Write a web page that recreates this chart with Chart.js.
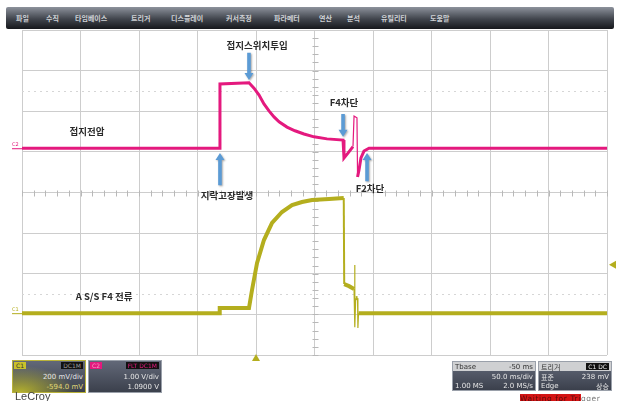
<!DOCTYPE html>
<html>
<head>
<meta charset="utf-8">
<script src="https://cdn.jsdelivr.net/npm/chart.js@4.4.1/dist/chart.umd.min.js"></script>
<style>
  body { margin: 0; background: #fff; overflow: hidden; }
  #wrap { position: relative; width: 619px; height: 401px; font-family: "DejaVu Sans", sans-serif; }
  #scope { position: absolute; left: 0; top: 0; }
  .menu { position: absolute; left: 6px; top: 7px; width: 608px; height: 22px;
          background: linear-gradient(#8d929c, #40444c 55%, #16181c); border-radius: 2px; }
  .menu span { position: absolute; top: 6px; font: bold 7px "Noto Sans CJK KR"; color: #cfd2d6; white-space: nowrap; }
  .box { position: absolute; box-sizing: border-box; border: 1px solid #9aa0aa;
         background: linear-gradient(#626878, #3b404c); color: #e6e6e6; font: 7px "DejaVu Sans"; }
  .box div { position: absolute; white-space: nowrap; line-height: 8px; }
  .tag { top: 1px; height: 7px; line-height: 7px !important; font-size: 6px; padding: 0 2px; }
  .r { right: 2px; }
  .hl { left: 0; right: 0; top: 0; height: 9px; background: #cfd0d2; }
  .lecroy { position: absolute; left: 15px; top: 390px; font: 11px "Liberation Sans"; color: #444; }
  .wait { position: absolute; left: 520px; top: 394px; font: 7.5px "DejaVu Sans"; letter-spacing: 0.6px; color: #777; white-space: nowrap; }
  .wait b { font-weight: normal; background: #d41414; color: #5a0c0c; }
</style>
</head>
<body>
<div id="wrap">
  <canvas id="scope" width="619" height="401"></canvas>

  <div class="menu">
    <span style="left:10px">파일</span>
    <span style="left:40px">수직</span>
    <span style="left:69px">타임베이스</span>
    <span style="left:125px">트리거</span>
    <span style="left:165px">디스플레이</span>
    <span style="left:220px">커서측정</span>
    <span style="left:268px">파라메터</span>
    <span style="left:313px">연산</span>
    <span style="left:341px">분석</span>
    <span style="left:375px">유틸리티</span>
    <span style="left:424px">도움말</span>
  </div>

  <div class="box" style="left:12px; top:360px; width:74px; height:33px; border-color:#b9b23a;
       background: radial-gradient(ellipse at 10% 100%, rgba(200,195,40,0.85), rgba(200,195,40,0) 60%), linear-gradient(#626878, #3b404c);">
    <div class="tag" style="left:1px; background:#c9c12a; color:#333;">C1</div>
    <div class="tag r" style="background:#111; color:#9a9a9a;">DC1M</div>
    <div class="r" style="top:12px;">200 mV/div</div>
    <div class="r" style="top:22px; color:#e0d878;">-594.0 mV</div>
  </div>
  <div class="box" style="left:88px; top:360px; width:74px; height:33px;">
    <div class="tag" style="left:1px; background:#e4197e; color:#f4a0c8;">C2</div>
    <div class="tag r" style="background:#111; color:#e4197e;">FLT DC1M</div>
    <div class="r" style="top:12px;">1.00 V/div</div>
    <div class="r" style="top:22px;">1.0900 V</div>
  </div>

  <div class="box" style="left:452px; top:361px; width:84px; height:30px;">
    <div class="hl"></div>
    <div style="left:2px; top:1px; color:#333;">Tbase</div>
    <div class="r" style="top:1px; color:#333;">-50 ms</div>
    <div class="r" style="top:11px;">50.0 ms/div</div>
    <div style="left:2px; top:20px;">1.00 MS</div>
    <div class="r" style="top:20px;">2.0 MS/s</div>
  </div>
  <div class="box" style="left:538px; top:361px; width:74px; height:30px;">
    <div class="hl"></div>
    <div style="left:2px; top:1px; color:#333; font-family:'Noto Sans CJK KR';">트리거</div>
    <div class="tag r" style="background:#111; color:#eee;">C1 DC</div>
    <div style="left:2px; top:11px; font-family:'Noto Sans CJK KR';">표준</div>
    <div class="r" style="top:11px;">238 mV</div>
    <div style="left:2px; top:20px;">Edge</div>
    <div class="r" style="top:20px; font-family:'Noto Sans CJK KR';">상승</div>
  </div>

  <div class="lecroy">LeCroy</div>
  <div class="wait"><b>Waiting for Tri</b>gger</div>
</div>

<script>
// channel settings shown in the info boxes
const C2_VDIV = 1.0, C2_OFFSET = 1.09;      // V/div, V
const C1_VDIV = 200, C1_OFFSET = -594;      // mV/div, mV
const TRIG_LEVEL = 238;                     // mV on C1
const TIME_MIN = -200, TIME_MAX = 300;      // ms, 50 ms/div

// C2 : 접지전압 (V)
const c2Time = [-200, -31.6, -30.8, -6, -1.7, 2.6, 6.8, 11.1, 15.4, 19.7, 26.5, 33.3, 41, 49.6, 60.7, 74.4,
                75.2, 78.6, 82.9, 83.8, 86.3, 86.8, 88, 89.7, 92.3, 96.6, 300];
const c2Volt = [0, 0, 1.58, 1.61, 1.48, 1.31, 1.09, 0.92, 0.77, 0.65, 0.52, 0.43, 0.35, 0.28, 0.23, 0.2,
                -0.24, -0.12, 0.04, 0.79, 0.75, -0.71, -0.54, -0.24, -0.07, 0, 0];
const c2Spikes = [18, 19, 20];

// C1 : A S/S F4 전류 (mV)
const c1Time = [-200, -31.6, -31, -6, -3.4, 0.9, 6.8, 13.7, 22.2, 30.8, 39.3, 47.9, 62.4, 75,
                75.4, 79.5, 83.8, 84.3, 84.6, 85.2, 86.8, 87.1, 87.6, 300];
const c1mV   = [0, 0, 25, 25, 114, 247, 360, 444, 498, 532, 547, 557, 562, 567,
                143, 133, 119, 237, -69, 74, 74, -73, 0, 0];
const c1Spikes = [16, 17, 18, 20, 21];

const notes = [
  {text: '접지스위치투입', t: 0.9, y: 2.54, axis: 'yC2'},
  {text: '지락고장발생', t: -24.8, y: -1.15, axis: 'yC2'},
  {text: 'F4차단', t: 75.2, y: 1.14, axis: 'yC2'},
  {text: 'F2차단', t: 97.4, y: -1.0, axis: 'yC2'},
  {text: '접지전압', t: -144.4, y: 0.42, axis: 'yC2'},
  {text: 'A S/S F4 전류', t: -129.9, y: 84, axis: 'yC1'}
];
const arrows = [
  {t: -6, from: 2.35, to: 1.68},
  {t: -30.8, from: -0.91, to: -0.12},
  {t: 74.4, from: 0.84, to: 0.28},
  {t: 94.9, from: -0.81, to: -0.12}
];

const PINK = '#e4197e', OLIVE = '#b4ae1e', GRID = '#cdcdcd';

function pts(xs, ys) {
  return xs.map((x, i) => ({x: x, y: ys[i]}));
}

// graticule details: center ticks, dotted half lines
const graticule = {
  id: 'graticule',
  beforeDatasetsDraw(chart) {
    const {ctx, chartArea: a, scales: {x, y}} = chart;
    const cx = Math.round(x.getPixelForValue((TIME_MIN + TIME_MAX) / 2)) + 0.5;
    const cy = Math.round(y.getPixelForValue(0)) + 0.5;
    ctx.save();
    ctx.strokeStyle = '#b8b8b8';
    ctx.lineWidth = 1;
    ctx.beginPath();
    for (let d = -4; d <= 4; d += 0.2) {
      const py = Math.round(y.getPixelForValue(d)) + 0.5;
      ctx.moveTo(cx - 3, py); ctx.lineTo(cx + 3, py);
    }
    for (let t = TIME_MIN; t <= TIME_MAX; t += 10) {
      const px = Math.round(x.getPixelForValue(t)) + 0.5;
      ctx.moveTo(px, cy - 3); ctx.lineTo(px, cy + 3);
    }
    ctx.stroke();
    ctx.setLineDash([2, 4]);
    ctx.strokeStyle = '#d6d6d6';
    ctx.beginPath();
    [2.5, -2.5].forEach(d => {
      const py = Math.round(y.getPixelForValue(d)) + 0.5;
      ctx.moveTo(a.left, py); ctx.lineTo(a.right, py);
    });
    ctx.stroke();
    ctx.restore();
  }
};

function arrow(ctx, x, y0, y1) {
  const dir = y1 > y0 ? 1 : -1;
  ctx.beginPath();
  ctx.moveTo(x - 1.8, y0);
  ctx.lineTo(x + 1.8, y0);
  ctx.lineTo(x + 1.8, y1 - dir * 7);
  ctx.lineTo(x + 4.5, y1 - dir * 7);
  ctx.lineTo(x, y1);
  ctx.lineTo(x - 4.5, y1 - dir * 7);
  ctx.lineTo(x - 1.8, y1 - dir * 7);
  ctx.closePath();
  ctx.fill();
}

const marks = {
  id: 'marks',
  afterDatasetsDraw(chart) {
    const {ctx, chartArea: a, scales} = chart;
    const x = scales.x;
    ctx.save();

    // channel zero markers on the left
    [['C2', scales.yC2.getPixelForValue(0), PINK], ['C1', scales.yC1.getPixelForValue(0), OLIVE]].forEach(m => {
      ctx.strokeStyle = m[2];
      ctx.fillStyle = m[2];
      ctx.lineWidth = 1;
      ctx.beginPath();
      ctx.moveTo(12, m[1] + 0.5); ctx.lineTo(a.left, m[1] + 0.5);
      ctx.stroke();
      ctx.font = '5px "DejaVu Sans"';
      ctx.fillText(m[0], 12, m[1] - 2);
    });

    // trigger level and trigger position
    ctx.fillStyle = OLIVE;
    const ty = scales.yC1.getPixelForValue(TRIG_LEVEL);
    ctx.beginPath();
    ctx.moveTo(a.right + 2, ty); ctx.lineTo(a.right + 9, ty - 4); ctx.lineTo(a.right + 9, ty + 4);
    ctx.fill();
    const tx = x.getPixelForValue(0);
    ctx.beginPath();
    ctx.moveTo(tx, a.bottom - 1); ctx.lineTo(tx - 4, a.bottom + 6); ctx.lineTo(tx + 4, a.bottom + 6);
    ctx.fill();

    // arrows
    ctx.fillStyle = '#5b9bd5';
    ctx.shadowColor = 'rgba(0,0,0,0.35)';
    ctx.shadowBlur = 2;
    ctx.shadowOffsetX = 1;
    ctx.shadowOffsetY = 1;
    arrows.forEach(ar => {
      arrow(ctx, x.getPixelForValue(ar.t), scales.yC2.getPixelForValue(ar.from), scales.yC2.getPixelForValue(ar.to));
    });
    ctx.shadowColor = 'transparent';

    // labels
    ctx.fillStyle = '#2a2a2a';
    ctx.font = 'bold 9.5px "Noto Sans CJK KR"';
    ctx.textAlign = 'center';
    ctx.textBaseline = 'middle';
    notes.forEach(n => {
      ctx.fillText(n.text, x.getPixelForValue(n.t), scales[n.axis].getPixelForValue(n.y));
    });
    ctx.restore();
  }
};

new Chart(document.getElementById('scope'), {
  type: 'line',
  data: {
    datasets: [
      {
        label: 'C1',
        data: pts(c1Time, c1mV),
        yAxisID: 'yC1',
        borderColor: OLIVE,
        borderWidth: 4,
        pointRadius: 0,
        segment: {
          borderWidth: ctx => c1Spikes.includes(ctx.p0DataIndex) ? 1.2 : (ctx.p0DataIndex === 13 ? 2 : undefined)
        }
      },
      {
        label: 'C2',
        data: pts(c2Time, c2Volt),
        yAxisID: 'yC2',
        borderColor: PINK,
        borderWidth: 3,
        pointRadius: 0,
        segment: {
          borderWidth: ctx => c2Spikes.includes(ctx.p0DataIndex) ? 1.2 : undefined
        }
      }
    ]
  },
  options: {
    responsive: false,
    animation: false,
    layout: {padding: {left: 22, top: 30, right: 12, bottom: 46}},
    plugins: {legend: {display: false}, tooltip: {enabled: false}},
    scales: {
      x: {
        type: 'linear', min: TIME_MIN, max: TIME_MAX,
        ticks: {display: false, stepSize: 50},
        grid: {color: GRID, drawTicks: false},
        border: {display: false}
      },
      y: {
        min: -4, max: 4,
        ticks: {display: false, stepSize: 1},
        grid: {color: GRID, drawTicks: false},
        border: {display: false}
      },
      yC2: {display: false, min: -4 * C2_VDIV - C2_OFFSET, max: 4 * C2_VDIV - C2_OFFSET},
      yC1: {display: false, min: -4 * C1_VDIV - C1_OFFSET, max: 4 * C1_VDIV - C1_OFFSET}
    }
  },
  plugins: [graticule, marks]
});
</script>
</body>
</html>
